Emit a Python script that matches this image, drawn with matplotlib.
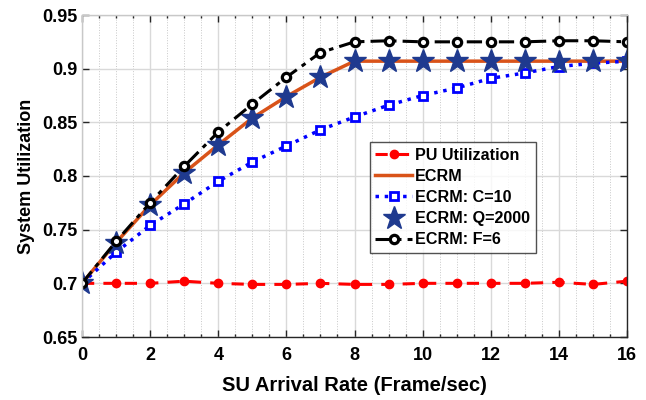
import matplotlib
matplotlib.use("Agg")
import matplotlib.pyplot as plt
import numpy as np
from matplotlib.ticker import MultipleLocator, FuncFormatter

plt.rcParams['font.family'] = ['Liberation Sans', 'DejaVu Sans']
plt.rcParams['font.weight'] = 'bold'

rate = list(range(17))
pu_util = [0.700, 0.700, 0.700, 0.702, 0.700, 0.699, 0.699, 0.700, 0.699,
           0.699, 0.700, 0.700, 0.700, 0.700, 0.701, 0.699, 0.702]
ecrm = [0.700, 0.738, 0.773, 0.803, 0.829, 0.854, 0.874, 0.892, 0.907,
        0.907, 0.907, 0.907, 0.907, 0.907, 0.907, 0.907, 0.907]
ecrm_c10 = [0.700, 0.729, 0.754, 0.774, 0.795, 0.813, 0.828, 0.843, 0.855,
            0.866, 0.875, 0.882, 0.891, 0.896, 0.902, 0.905, 0.907]
ecrm_q2000 = [0.700, 0.738, 0.773, 0.803, 0.829, 0.854, 0.874, 0.892, 0.907,
              0.907, 0.907, 0.907, 0.907, 0.907, 0.906, 0.907, 0.907]
ecrm_f6 = [0.700, 0.739, 0.775, 0.809, 0.841, 0.867, 0.892, 0.915, 0.925,
           0.926, 0.925, 0.925, 0.925, 0.925, 0.926, 0.926, 0.925]

fig = plt.figure(figsize=(6.46, 4.0), dpi=100)
ax = fig.add_axes([82/646, 63/400, 545/646, 322/400])

ax.plot(rate, pu_util, color='#ff0000', lw=2.2, marker='o', ms=6,
        mfc='#ff0000', mec='#ff0000', dashes=(4, 3), label='PU Utilization')
ax.plot(rate, ecrm, '-', color='#d95319', lw=2.5, label='ECRM')
ax.plot(rate, ecrm_c10, ':', color='#0000ff', lw=2.5, marker='s', ms=6,
        mfc='white', mec='#0000ff', mew=2, label='ECRM: C=10')
ax.plot(rate, ecrm_q2000, ls='none', marker='*', ms=17, color='#1f3a8f',
        mec='#1f3a8f', label='ECRM: Q=2000')
ax.plot(rate, ecrm_f6, color='black', lw=2.2, marker='o', ms=6,
        mfc='white', mec='black', mew=2.3, dashes=(5, 2, 1.5, 2),
        label='ECRM: F=6')

ax.set_xlim(0, 16)
ax.set_ylim(0.65, 0.95)
ax.xaxis.set_major_locator(MultipleLocator(2))
ax.xaxis.set_minor_locator(MultipleLocator(0.5))
ax.yaxis.set_major_locator(MultipleLocator(0.05))
ax.yaxis.set_major_formatter(FuncFormatter(lambda v, p: ('%.2f' % v).rstrip('0')))

ax.grid(True, which='major', color='#d9d9d9', lw=1)
ax.grid(True, which='minor', axis='x', color='#c8c8c8', lw=0.7, ls=':')
ax.set_axisbelow(True)
ax.tick_params(which='both', direction='in', top=True, right=True,
               labelsize=13, width=1, color='#262626')
ax.tick_params(which='major', length=5)
ax.tick_params(axis='x', which='major', pad=7)
ax.tick_params(which='minor', length=2.5)
for lab in ax.get_xticklabels() + ax.get_yticklabels():
    lab.set_fontweight('bold')
for side in ['left', 'top']:
    ax.spines[side].set_color('#c8c8c8')
for side in ['bottom', 'right']:
    ax.spines[side].set_color('#262626')
for s in ax.spines.values():
    s.set_linewidth(1)

ax.set_xlabel('SU Arrival Rate (Frame/sec)', fontsize=14.5, fontweight='bold',
              labelpad=9)
ax.set_ylabel('System Utilization', fontsize=13, fontweight='bold',
              labelpad=5)

leg = ax.legend(loc='lower left', bbox_to_anchor=(0.528, 0.261), fontsize=11.6,
                frameon=True, fancybox=False, edgecolor='#262626',
                handlelength=2.25, handletextpad=0.2, borderpad=0.35,
                labelspacing=0.38, borderaxespad=0)
leg.get_frame().set_linewidth(1)
for t in leg.get_texts():
    t.set_fontweight('bold')

fig.savefig('out.png', dpi=100)
